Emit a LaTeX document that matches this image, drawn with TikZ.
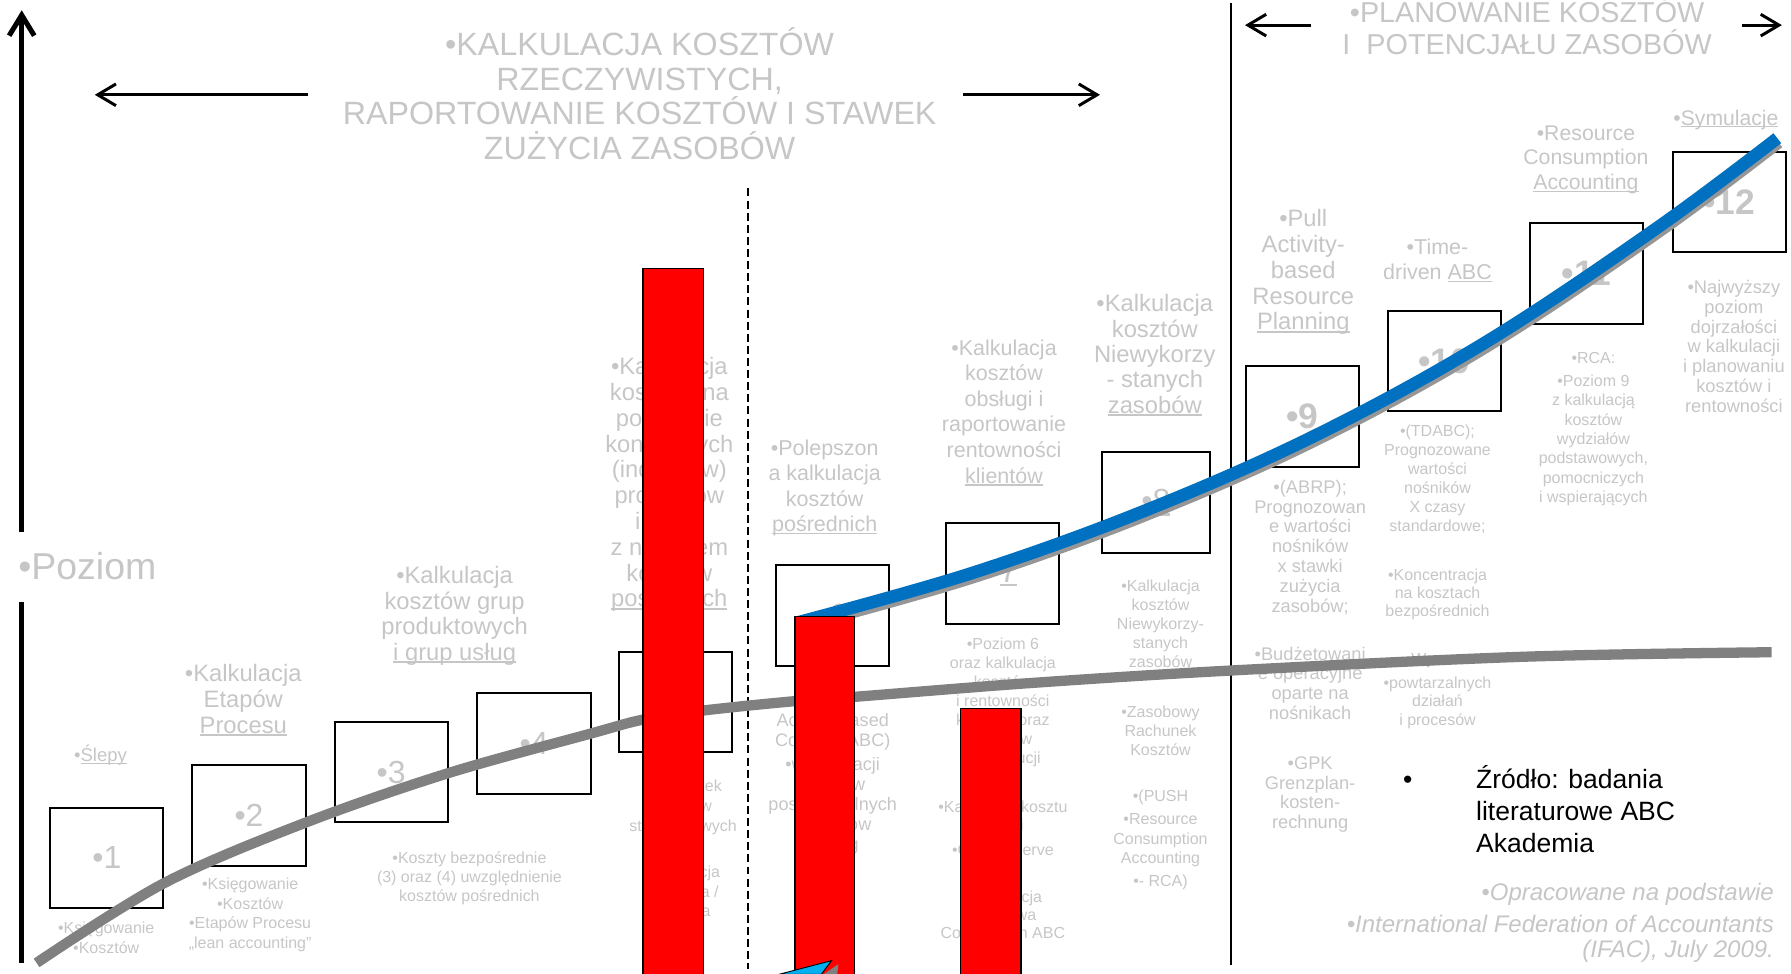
\documentclass[tikz,border=0pt]{standalone}
\usepackage{fontspec}
\setmainfont{Liberation Sans}
\usetikzlibrary{arrows.meta}

\definecolor{txtgray}{RGB}{198,198,198}
\definecolor{curvegray}{RGB}{128,128,128}
\definecolor{trendblue}{RGB}{0,112,192}
\definecolor{shadowgray}{RGB}{150,150,150}
\definecolor{barred}{RGB}{255,0,0}
\definecolor{tipcyan}{RGB}{0,176,240}

% underline drawn just below the baseline, through descenders
\newsavebox\ulbox
\newcommand\uln[1]{\leavevmode\sbox\ulbox{#1}\rlap{\rule[-0.11em]{\wd\ulbox}{0.065em}}\usebox\ulbox}
% text blocks whose baseline is the baseline of their first line
\newcommand\cblock[1]{\parbox[t]{300pt}{\centering #1}}
\newcommand\rblock[1]{\parbox[t]{400pt}{\raggedleft #1}}
\newcommand\lblock[1]{\parbox[t]{200pt}{\raggedright #1}}
\newcommand\fs[2]{\fontsize{#1}{#2}\selectfont}

\tikzset{
  txt/.style={inner sep=0pt, outer sep=0pt, text=txtgray, anchor=base},
  midtxt/.style={txt, font=\fs{10.4}{11.25}},
  midtxtn/.style={txt, font=\fs{9.4}{11.2}},
  smalltxt/.style={txt, font=\fs{7}{8.4}},
  smallptxt/.style={txt, font=\fs{8}{8.65}},
  lvlbox/.style={draw=black, line width=0.9pt, inner sep=0pt, minimum width=49.5pt,
    minimum height=44pt, text=txtgray, font=\fs{14}{16}},
  lvlboxhi/.style={lvlbox, font=\fs{15.5}{17}\bfseries},
  axisline/.style={line width=2.2pt},
  rangearrow/.style={line width=1.3pt, -{Straight Barb[length=8pt,width=9.5pt]}},
  sepline/.style={line width=1pt},
  dashline/.style={line width=0.75pt, dash pattern=on 3.5pt off 1.8pt},
  greycurve/.style={curvegray, line width=4.5pt, line cap=butt},
  bluecurve/.style={trendblue, line width=5.5pt, line cap=butt},
  blueshadow/.style={shadowgray, line width=5.5pt, line cap=butt},
  redbar/.style={fill=barred, draw=black, line width=0.6pt},
}

\begin{document}
\begin{tikzpicture}[x=0.5pt, y=-0.5pt]
\useasboundingbox (0,0) rectangle (1568,852);
\clip (0,0) rectangle (1568,852);

% ---------- headings ----------
\node[txt, font=\fs{14.1}{15.15}] (hdActual) at (560,48.5)
  {\cblock{•KALKULACJA KOSZTÓW\\RZECZYWISTYCH,\\RAPORTOWANIE KOSZTÓW I STAWEK\\ZUŻYCIA ZASOBÓW}};
\node[txt, font=\fs{12.6}{14}] (hdPlan) at (1337,20)
  {\cblock{•PLANOWANIE KOSZTÓW\\I\ \ POTENCJAŁU ZASOBÓW}};

% ---------- range arrows ----------
\coordinate (raL0) at (270,83);  \coordinate (raL1) at (83,83);
\coordinate (raR0) at (843,83);  \coordinate (raR1) at (963,83);
\coordinate (rpL0) at (1148,22); \coordinate (rpL1) at (1090,22);
\coordinate (rpR0) at (1525,22); \coordinate (rpR1) at (1560,22);
\draw[rangearrow] (raL0) -- (raL1);
\draw[rangearrow] (raR0) -- (raR1);
\draw[rangearrow] (rpL0) -- (rpL1);
\draw[rangearrow] (rpR0) -- (rpR1);

% ---------- vertical axis ----------
\coordinate (axBot) at (19,843);
\coordinate (axGapLo) at (19,527);
\coordinate (axGapHi) at (19,466);
\coordinate (axTop) at (19,9);
\draw[axisline] (axBot) -- (axGapLo);
\draw[axisline, -{Straight Barb[length=9pt,width=11pt]}] (axGapHi) -- (axTop);
\node[txt, anchor=base west, font=\fs{16.4}{18}] (poziom) at (16,507) {•Poziom};

% ---------- separators ----------
\coordinate (dashTop) at (655,165); \coordinate (dashBot) at (655,848);
\draw[dashline] (dashTop) -- (dashBot);
\coordinate (sepTop) at (1078,3); \coordinate (sepBot) at (1078,845);
\draw[sepline] (sepTop) -- (sepBot);

% ---------- level descriptions ----------
\node[txt, font=\fs{8.1}{9}] (l1top) at (88,667) {\cblock{•\uln{Ślepy}}};
\node[smalltxt, font=\fs{7}{9}] (l1bot) at (93,817) {\cblock{•Księgowanie\\•Kosztów}};

\node[midtxt] (l2top) at (213,597) {\cblock{•Kalkulacja\\Etapów\\\uln{Procesu}}};
\node[smalltxt, font=\fs{7}{8.5}] (l2bot) at (219,779)
  {\cblock{•Księgowanie\\•Kosztów\\•Etapów Procesu\\„lean accounting”}};

\node[midtxt, font=\fs{10.4}{11.15}] (l3top) at (398,511)
  {\cblock{•Kalkulacja\\kosztów grup\\produktowych\\\uln{i grup usług}}};
\node[smalltxt, font=\fs{7}{8.3}] (l34bot) at (411,756)
  {\cblock{•Koszty bezpośrednie\\(3) oraz (4) uwzględnienie\\kosztów pośrednich}};

\node[midtxt, font=\fs{10.4}{11.3}] (l5top) at (586,328)
  {\cblock{•Kalkulacja\\kosztów na\\podstawie\\konkretnych\\(indeksów)\\produktów\\i usług\\z narzutem\\kosztów\\\uln{pośrednich}}};
\node[smalltxt, font=\fs{7}{8.65}] (l5botA) at (598,693) {\cblock{•Rachunek\\kosztów\\standardowych}};
\node[smalltxt, font=\fs{7}{8.65}] (l5botB) at (596,768) {\cblock{•Kalkulacja\\kosztowa /\\planowa}};

\node[midtxtn] (l6top) at (722,398.5) {\cblock{•Polepszon\\a kalkulacja\\kosztów\\\uln{pośrednich}}};
\node[smalltxt, font=\fs{7.9}{8.75}] (l6bot) at (729,636)
  {\cblock{Activity-based\\Costing (ABC)\\[1.6pt]•wg alokacji\\kosztów\\poszczególnych\\procesów\\i usług}};

\node[midtxtn] (l7top) at (879,311)
  {\cblock{•Kalkulacja\\kosztów\\obsługi i\\raportowanie\\rentowności\\\uln{klientów}}};
\node[smalltxt, font=\fs{7}{8.3}] (l7botA) at (878,569)
  {\cblock{•Poziom 6\\oraz kalkulacja\\kosztów\\i rentowności\\klientów oraz\\kanałów\\dystrybucji}};
\node[smalltxt, font=\fs{7}{8.1}] (l7botB) at (878,711) {\cblock{•Kalkulacja kosztu\\usługi\\[2.9pt]•Cost-to-serve}};
\node[smalltxt, font=\fs{7}{7.9}] (l7botC) at (878,790) {\cblock{•Kalkulacja\\kosztowa\\Costing with ABC}};

\node[midtxt, font=\fs{10.4}{11.1}] (l8top) at (1011,273)
  {\cblock{•Kalkulacja\\kosztów\\Niewykorzy\\- stanych\\\uln{zasobów}}};
\node[smalltxt, font=\fs{7}{8.35}] (l8botA) at (1016,518)
  {\cblock{•Kalkulacja\\kosztów\\Niewykorzy-\\stanych\\zasobów}};
\node[smalltxt, font=\fs{7}{8.35}] (l8botB) at (1016,628) {\cblock{•Zasobowy\\Rachunek\\Kosztów}};
\node[smalltxt, font=\fs{7}{8.5}] (l8botC) at (1016,702)
  {\cblock{•(PUSH\\[1.5pt]•Resource\\Consumption\\Accounting\\[1.5pt]•- RCA)}};

\node[midtxt, font=\fs{10.4}{11.3}] (l9top) at (1141,198.5)
  {\cblock{•Pull\\Activity-\\based\\Resource\\\uln{Planning}}};
\node[smallptxt] (l9botA) at (1147,432)
  {\cblock{•(ABRP);\\Prognozowan\\e wartości\\nośników\\x stawki\\zużycia\\zasobów;}};
\node[smallptxt] (l9botB) at (1147,578) {\cblock{•Budżetowani\\e operacyjne\\oparte na\\nośnikach}};
\node[smallptxt, font=\fs{8}{8.5}] (l9botC) at (1147,674) {\cblock{•GPK\\Grenzplan-\\kosten-\\rechnung}};

\node[midtxtn, font=\fs{9.4}{11}] (l10top) at (1258.5,223) {\cblock{•Time-\\driven \uln{ABC}}};
\node[smalltxt, font=\fs{7}{8.3}] (l10botA) at (1258.5,382.5)
  {\cblock{•(TDABC);\\Prognozowane\\wartości\\nośników\\X czasy\\standardowe;}};
\node[smalltxt, font=\fs{7}{8}] (l10botB) at (1258.5,508) {\cblock{•Koncentracja\\na kosztach\\bezpośrednich}};
\node[smalltxt] (l10botC) at (1258.5,582) {\cblock{•Wycena}};
\node[smalltxt, font=\fs{7}{8.2}] (l10botD) at (1258.5,602.5) {\cblock{•powtarzalnych\\działań\\i procesów}};

\node[midtxtn, font=\fs{9.3}{10.9}] (l11top) at (1388.5,122.6)
  {\cblock{•Resource\\Consumption\\\uln{Accounting}}};
\node[smalltxt, font=\fs{7}{8.45}] (l11bot) at (1395,318)
  {\cblock{•RCA:\\[1.8pt]•Poziom 9\\z kalkulacją\\kosztów\\wydziałów\\podstawowych,\\pomocniczych\\i wspierających}};

\node[txt, font=\fs{9.25}{11}] (l12top) at (1511,109.5) {\cblock{•\uln{Symulacje}}};
\node[smallptxt] (l12bot) at (1518,257)
  {\cblock{•Najwyższy\\poziom\\dojrzałości\\w kalkulacji\\i planowaniu\\kosztów i\\rentowności}};

% ---------- source notes ----------
\node[anchor=base, inner sep=0pt, font=\fs{11.6}{14}, text=black] (srcDot) at (1232.5,690) {•};
\node[anchor=base west, inner sep=0pt, font=\fs{11.6}{14}, text=black] (srcText) at (1292,690)
  {\lblock{Źródło: badania\\literaturowe ABC\\Akademia}};
\node[txt, anchor=base east, font=\fs{10.5}{11}\itshape] (ifac) at (1553,788)
  {\rblock{•Opracowane na podstawie\\[3pt]•International Federation of Accountants\\(IFAC), July 2009.}};

% ---------- level boxes ----------
\node[lvlbox] (b1) at (93.5,751) {•1};
\node[lvlbox] (b2) at (218,714) {•2};
\node[lvlbox] (b3) at (342.5,676) {•3};
\node[lvlbox] (b4) at (467.5,651) {•4};
\node[lvlbox] (b5) at (591.5,614.5) {•5};
\node[lvlbox] (b6) at (729,539) {•6};
\node[lvlbox] (b7) at (878,502) {•\uln{7}};
\node[lvlbox, minimum width=47pt] (b8) at (1012,440) {•\uln{8}};
\node[lvlboxhi] (b9) at (1140,364.5) {•9};
\node[lvlboxhi] (b10) at (1264.5,316) {•10};
\node[lvlboxhi] (b11) at (1389,239.5) {•11};
\node[lvlboxhi] (b12) at (1514,177) {•12};

% ---------- trend curves ----------
\draw[greycurve] plot[smooth, tension=0.55] coordinates
  {(32,843) (144,773) (268,720) (392,677) (518,642) (563,630) (616,622) (694,614)
   (749,610) (902,598) (1078,587) (1333,575) (1551,571)};
\draw[blueshadow, shift={(1,3.5)}] plot[smooth, tension=0.6] coordinates
  {(698,545) (850,502) (1000,448) (1150,382) (1300,300) (1450,200) (1556,121)};
\draw[bluecurve] plot[smooth, tension=0.6] coordinates
  {(698,545) (850,502) (1000,448) (1150,382) (1300,300) (1450,200) (1556,121)};

% ---------- red bars ----------
\filldraw[redbar] (563,235) rectangle (616,860);
\filldraw[redbar] (696,540) rectangle (748,860);
\filldraw[redbar] (841,620) rectangle (894,860);

% ---------- pointer tip at the bottom edge ----------
\fill[curvegray] (721,853) -- (734,844) -- (733,853) -- cycle;
\filldraw[fill=tipcyan, draw=black, line width=0.4pt] (682,853) -- (728,841) -- (719,853) -- cycle;

\end{tikzpicture}
\end{document}
